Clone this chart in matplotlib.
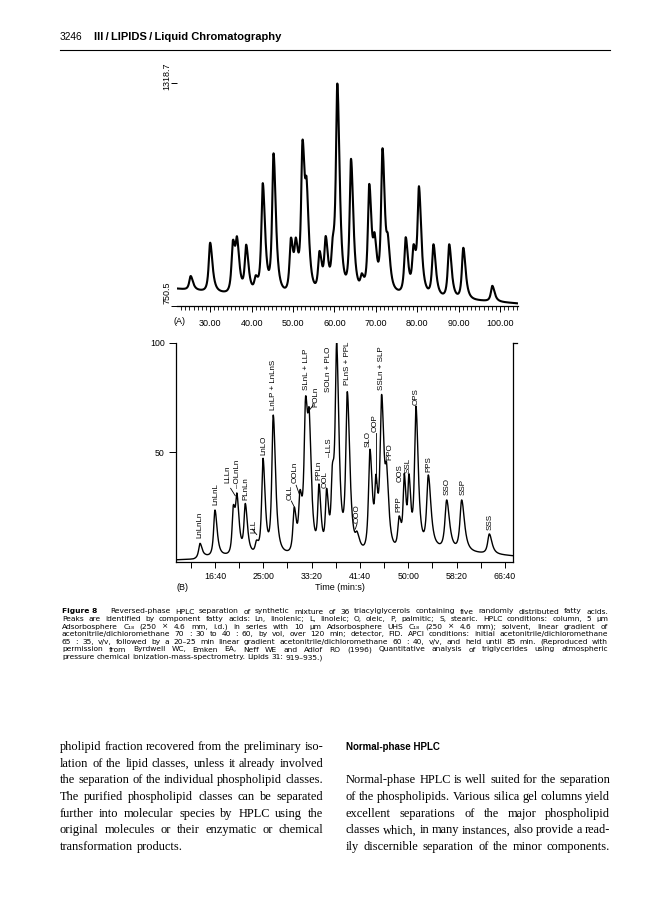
import numpy as np
import matplotlib
matplotlib.use('Agg')
import matplotlib.pyplot as plt

plt.rcParams['font.family'] = ['Liberation Sans', 'DejaVu Sans']

W, H = 668, 900

# ---- chart (A): signal vs time (min) ----
a_times = [25.3, 30.0, 35.5, 36.5, 38.7, 41.0, 42.7, 45.3, 49.5, 50.7, 52.3, 53.3,
           56.4, 57.9, 59.6, 60.7, 64.0, 66.6, 68.4, 69.7, 71.6, 72.9, 77.2, 79.1,
           80.4, 83.9, 87.7, 91.1, 98.1]
a_heights = [827, 912, 919, 927, 907, 829, 1064, 1140, 925, 925, 1175, 1074,
             891, 929, 929, 1318, 1126, 834, 1062, 937, 1153, 933, 926, 908,
             1056, 908, 908, 899, 802]
a_base_t = [22, 28, 34, 50, 65, 75, 82, 90, 97, 104.3]
a_base_v = [795, 789, 783, 780, 780, 781, 775, 767, 763, 757]
a_width = 0.65
a_xticks = [30, 40, 50, 60, 70, 80, 90, 100]

# ---- chart (B): relative response vs time (s) ----
b_times = [845, 1000, 1190, 1228, 1314, 1430, 1497, 1603, 1820, 1880, 1938, 1976,
           2076, 2155, 2215, 2259, 2369, 2470, 2603, 2665, 2724, 2776, 2905, 2958,
           3007, 3079, 3207, 3397, 3552, 3838]
b_heights = [8.5, 23.7, 26, 31.3, 26.7, 10, 47.3, 67, 25, 33, 75.7, 69,
             35.6, 33.6, 45, 100, 77.7, 14, 51.4, 40, 76.4, 45, 21, 40.4,
             40.2, 71.1, 39.7, 28.3, 28.3, 12.8]
b_widths = [26, 26, 24, 26, 26, 26, 26, 28, 26, 26, 30, 26,
            24, 24, 24, 28, 30, 32, 28, 22, 30, 26, 26, 22,
            22, 28, 32, 34, 34, 32]
b_base_t = [597, 780, 900, 1100, 1700, 2500, 3000, 3300, 3500, 3700, 4083]
b_base_v = [1.0, 1.3, 2.5, 3.0, 3.5, 4.0, 5.0, 6.0, 5.0, 4.2, 2.8]
b_xticks = [1000, 1500, 2000, 2500, 3000, 3500, 4000]

b_labels = ['LnLnLn', 'LnLnL', 'LLLn', '–OLnLn', 'PLnLn', 'LLL', 'LnLO', 'LnLP + LnLnS',
            'OLL', 'OOLn', 'SLnL + LLP', 'POLn', 'PPLn', 'OOL', '–LLS', 'SOLn + PLO',
            'PLnS + PPL', 'OOO', 'SLO', 'OOP', 'SSLn + SLP', 'PPO', 'PPP', 'OOS',
            'SSL', 'OPS', 'PPS', 'SSO', 'SSP', 'SSS']
b_label_s = [845, 1010, 1138, 1231, 1321, 1403, 1507, 1610, 1775, 1830, 1949, 2045,
             2076, 2138, 2190, 2172, 2369, 2472, 2586, 2655, 2724, 2810, 2906, 2914,
             3000, 3079, 3217, 3397, 3562, 3845]
b_label_v = [10.9, 26, 36, 33.7, 28.3, 13.2, 49, 69.3, 28.3, 36.0, 78.4, 70.7,
             37.4, 33.7, 48, 77.5, 80.7, 17.8, 52.4, 59.3, 78.4, 46.5, 22.8, 36.5,
             40.6, 71.6, 41, 30.6, 30.6, 14.6]
# short leader strokes (s0, v0, s1, v1)
b_leaders = [(1162, 33.6, 1210, 30.2), (1385, 15.0, 1432, 12.5), (1790, 27.8, 1822, 25.0),
             (1840, 35.0, 1872, 31.0), (1983, 69.6, 2017, 71.6), (2452, 15.0, 2470, 17.5),
             (2662, 58.7, 2662, 36.0)]

caption = [
    "Reversed-phase HPLC separation of synthetic mixture of 36 triacylglycerols containing five randomly distributed fatty acids.",
    "Peaks are identified by component fatty acids: Ln, linolenic; L, linoleic; O, oleic, P, palmitic; S, stearic. HPLC conditions: column, 5 µm",
    "Adsorbosphere C\u2081\u2088 (250 × 4.6 mm, i.d.) in series with 10 µm Adsorbosphere UHS C\u2081\u2088 (250 × 4.6 mm); solvent, linear gradient of",
    "acetonitrile/dichloromethane 70 : 30 to 40 : 60, by vol, over 120 min; detector, FID. APCI conditions: initial acetonitrile/dichloromethane",
    "65 : 35, v/v, followed by a 20–25 min linear gradient acetonitrile/dichloromethane 60 : 40, v/v, and held until 85 min. (Reproduced with",
    "permission from Byrdwell WC, Emken EA, Neff WE and Adlof RO (1996) Quantitative analysis of triglycerides using atmospheric",
    "pressure chemical ionization-mass-spectrometry. Lipids 31: 919–935.)",
]
left_col = [
    "pholipid fraction recovered from the preliminary iso-",
    "lation of the lipid classes, unless it already involved",
    "the separation of the individual phospholipid classes.",
    "The purified phospholipid classes can be separated",
    "further into molecular species by HPLC using the",
    "original molecules or their enzymatic or chemical",
    "transformation products.",
]
right_col = [
    "Normal-phase HPLC is well suited for the separation",
    "of the phospholipids. Various silica gel columns yield",
    "excellent separations of the major phospholipid",
    "classes which, in many instances, also provide a read-",
    "ily discernible separation of the minor components.",
]


def fx(px):
    return px / W


def fy(py):
    return 1 - py / H


def peak_shape(t, t0, w):
    ws = np.where(np.asarray(t) < t0, 0.8 * w, 1.3 * w)
    return (1.0 + ((np.asarray(t) - t0) / ws) ** 2) ** -1.5


def build_trace(t, times, heights, widths, base_t, base_v):
    times = np.asarray(times, float)
    widths = np.broadcast_to(np.asarray(widths, float), times.shape)
    M = np.array([[peak_shape(ti, tj, wj) for tj, wj in zip(times, widths)] for ti in times])
    amps = np.linalg.solve(M, np.asarray(heights) - np.interp(times, base_t, base_v))
    amps = np.clip(amps, 0, None)
    y = np.interp(t, base_t, base_v)
    for a, tj, wj in zip(amps, times, widths):
        y = y + a * peak_shape(t, tj, wj)
    return y


fig = plt.figure(figsize=(W / 100, H / 100), dpi=100)
r = fig.canvas.get_renderer()

# ---------------- chart A ----------------
axa = fig.add_axes([fx(177), fy(306), (518 - 177) / W, (306 - 70) / H])
ta = np.linspace(22, 104.3, 4000)
axa.plot(ta, build_trace(ta, a_times, a_heights, a_width, a_base_t, a_base_v),
         color='black', lw=1.5)
axa.set_xlim(22, 104.3)
axa.set_ylim(750.5, 1352.6)
for s in ['left', 'top', 'right']:
    axa.spines[s].set_visible(False)
axa.spines['bottom'].set_linewidth(0.9)
axa.set_xticks(a_xticks)
axa.set_xticklabels([f"{v:.2f}" for v in a_xticks])
axa.set_xticks(np.arange(23, 105, 1), minor=True)
axa.tick_params(axis='x', which='major', length=4, width=0.7, pad=5, labelsize=6.5)
axa.tick_params(axis='x', which='minor', length=3, width=0.6)
axa.set_yticks([750.5, 1318.7])
axa.set_yticklabels([])
axa.tick_params(axis='y', length=4, width=0.7)
fig.text(fx(167), fy(76), '1318.7', rotation=90, ha='center', va='center', fontsize=6.5)
fig.text(fx(167), fy(293), '750.5', rotation=90, ha='center', va='center', fontsize=6.5)
fig.text(fx(174), fy(322), '(A)', ha='left', va='center', fontsize=6.5)

# ---------------- chart B ----------------
axb = fig.add_axes([fx(176), fy(562), (513 - 176) / W, (562 - 342.7) / H])
tb = np.linspace(597, 4083, 4000)
axb.plot(tb, build_trace(tb, b_times, b_heights, b_widths, b_base_t, b_base_v),
         color='black', lw=1.0)
axb.set_xlim(597, 4083)
axb.set_ylim(0, 100)
axb.spines['top'].set_visible(False)
for s in ['left', 'bottom', 'right']:
    axb.spines[s].set_linewidth(0.9)
axb.set_xticks(b_xticks)
axb.set_xticklabels([f"{v // 60}:{v % 60:02d}" for v in b_xticks])
axb.set_xticks(np.arange(750, 4083, 500), minor=True)
axb.tick_params(axis='x', which='major', length=4, width=0.7, pad=3, labelsize=6.3)
axb.tick_params(axis='x', which='minor', length=4, width=0.7)
axb.set_yticks([50, 100])
axb.set_yticklabels(['50', '100'])
axb.tick_params(axis='y', length=5, width=0.7, pad=3, labelsize=6.3)
axb.plot([1, 1 + 4 / 337], [1, 1], transform=axb.transAxes, color='black', lw=0.9, clip_on=False)

for name, s, v in zip(b_labels, b_label_s, b_label_v):
    axb.text(s, v, name, rotation=90, ha='center', va='bottom', fontsize=5.8)
for s0, v0, s1, v1 in b_leaders:
    axb.plot([s0, s1], [v0, v1], color='black', lw=0.6)

fig.text(fx(340), fy(588), 'Time (min:s)', ha='center', va='center', fontsize=6.5)
fig.text(fx(176), fy(588), '(B)', ha='left', va='center', fontsize=6.5)


# ---------------- page text ----------------
def place_words(line, x0, x1, y, size, family, justify=True, weight='normal'):
    words = line.split(' ')
    objs = [fig.text(fx(x0), fy(y), w, fontsize=size, family=family, weight=weight,
                     ha='left', va='baseline') for w in words]
    widths = [o.get_window_extent(r).width for o in objs]
    gap = size * 0.4
    if justify and len(words) > 1:
        gap = max((x1 - x0 - sum(widths)) / (len(words) - 1), size * 0.2)
    x = x0
    for o, wd in zip(objs, widths):
        o.set_x(fx(x))
        x += wd + gap


cap_font = ['DejaVu Sans']
serif = ['Liberation Serif', 'DejaVu Serif']

# running head
fig.text(fx(60), fy(39.5), '3246', fontsize=7.3, ha='left', va='baseline')
fig.text(fx(94), fy(39.5), 'III\u2009/\u2009LIPIDS\u2009/\u2009Liquid Chromatography',
         fontsize=8.0, weight='bold', ha='left', va='baseline')
fig.add_artist(plt.Line2D([fx(60), fx(610)], [fy(49.5), fy(49.5)], color='black', lw=0.8))

# caption
cap_size = 5.4
fig.text(fx(62), fy(613.5), 'Figure 8', fontsize=cap_size, weight='bold', family=cap_font,
         ha='left', va='baseline')
place_words(caption[0], 110, 608, 613.5, cap_size, cap_font)
for i, line in enumerate(caption[1:], start=1):
    place_words(line, 62, 608, 613.5 + 7.6 * i, cap_size, cap_font, justify=(i < 6))

# body columns
body_size = 8.9
for i, line in enumerate(left_col):
    place_words(line, 60, 323, 750 + 16.65 * i, body_size, serif, justify=(i < 6))
fig.text(fx(346), fy(749.5), 'Normal-phase HPLC', fontsize=7.0, weight='bold',
         ha='left', va='baseline')
for i, line in enumerate(right_col, start=2):
    place_words(line, 346, 610, 750 + 16.65 * i, body_size, serif)

fig.savefig('out.png', dpi=100)
